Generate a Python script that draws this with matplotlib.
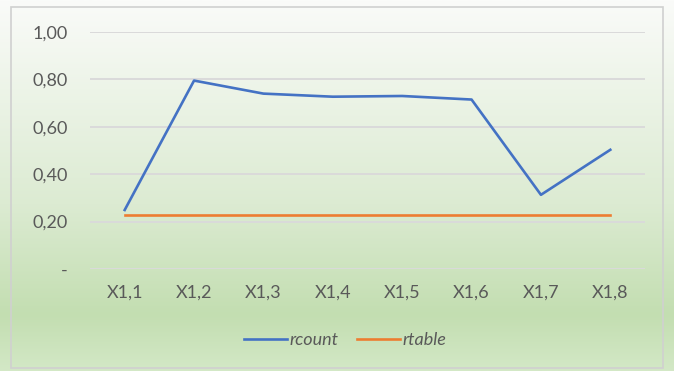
import numpy as np
import matplotlib.pyplot as plt
from matplotlib.colors import LinearSegmentedColormap
from matplotlib.patches import Rectangle

categories = ["X1,1", "X1,2", "X1,3", "X1,4", "X1,5", "X1,6", "X1,7", "X1,8"]
rcount = [0.249, 0.795, 0.740, 0.727, 0.730, 0.715, 0.313, 0.503]
rtable = [0.228] * 8
yticks = [0, 0.2, 0.4, 0.6, 0.8, 1.0]
ylabels = ["-", "0,20", "0,40", "0,60", "0,80", "1,00"]

plt.rcParams['font.family'] = ['Lato', 'DejaVu Sans']
grey = '#595959'

fig = plt.figure(figsize=(6.74, 3.71), dpi=100)

# background: white at the top fading to light green
bg = fig.add_axes([0, 0, 1, 1])
cmap = LinearSegmentedColormap.from_list(
    'bg', [(0, '#d3e8c6'), (0.15, '#c3deb1'), (0.45, '#dcebd2'), (1, '#fafbf9')])
grad = np.linspace(0, 1, 256).reshape(-1, 1)
bg.imshow(grad, aspect='auto', cmap=cmap, origin='lower', extent=[0, 1, 0, 1])
bg.add_patch(Rectangle((11 / 674, 3 / 371), 652 / 674, 361 / 371, fill=False,
                       edgecolor='#d0d0d0', linewidth=1.2))
bg.set_xlim(0, 1)
bg.set_ylim(0, 1)
bg.axis('off')

ax = fig.add_axes([90 / 674, 1 - 269 / 371, 555 / 674, 237 / 371])
ax.patch.set_alpha(0)
x = np.arange(len(categories))
ax.plot(x, rcount, color='#4472c4', linewidth=1.9, label='rcount')
ax.plot(x, rtable, color='#ed7d31', linewidth=1.9, label='rtable')

ax.set_xlim(-0.5, len(categories) - 0.5)
ax.set_ylim(0, 1)
ax.set_yticks(yticks)
ax.set_yticklabels(ylabels)
ax.set_xticks(x)
ax.set_xticklabels(categories)
ax.grid(axis='y', color='#dadada', linewidth=1.4)
ax.set_axisbelow(True)
for s in ax.spines.values():
    s.set_visible(False)
ax.tick_params(length=0, colors=grey, labelsize=13)
ax.tick_params(axis='y', pad=16)
ax.tick_params(axis='x', pad=11)

leg = fig.legend(loc='center', bbox_to_anchor=(0.512, 1 - 340 / 371), ncol=2,
                 frameon=False, fontsize=13, handlelength=2.4,
                 handletextpad=0.15, columnspacing=1.0)
for t in leg.get_texts():
    t.set_color(grey)
    t.set_style('italic')

fig.savefig('out.png', dpi=100)
